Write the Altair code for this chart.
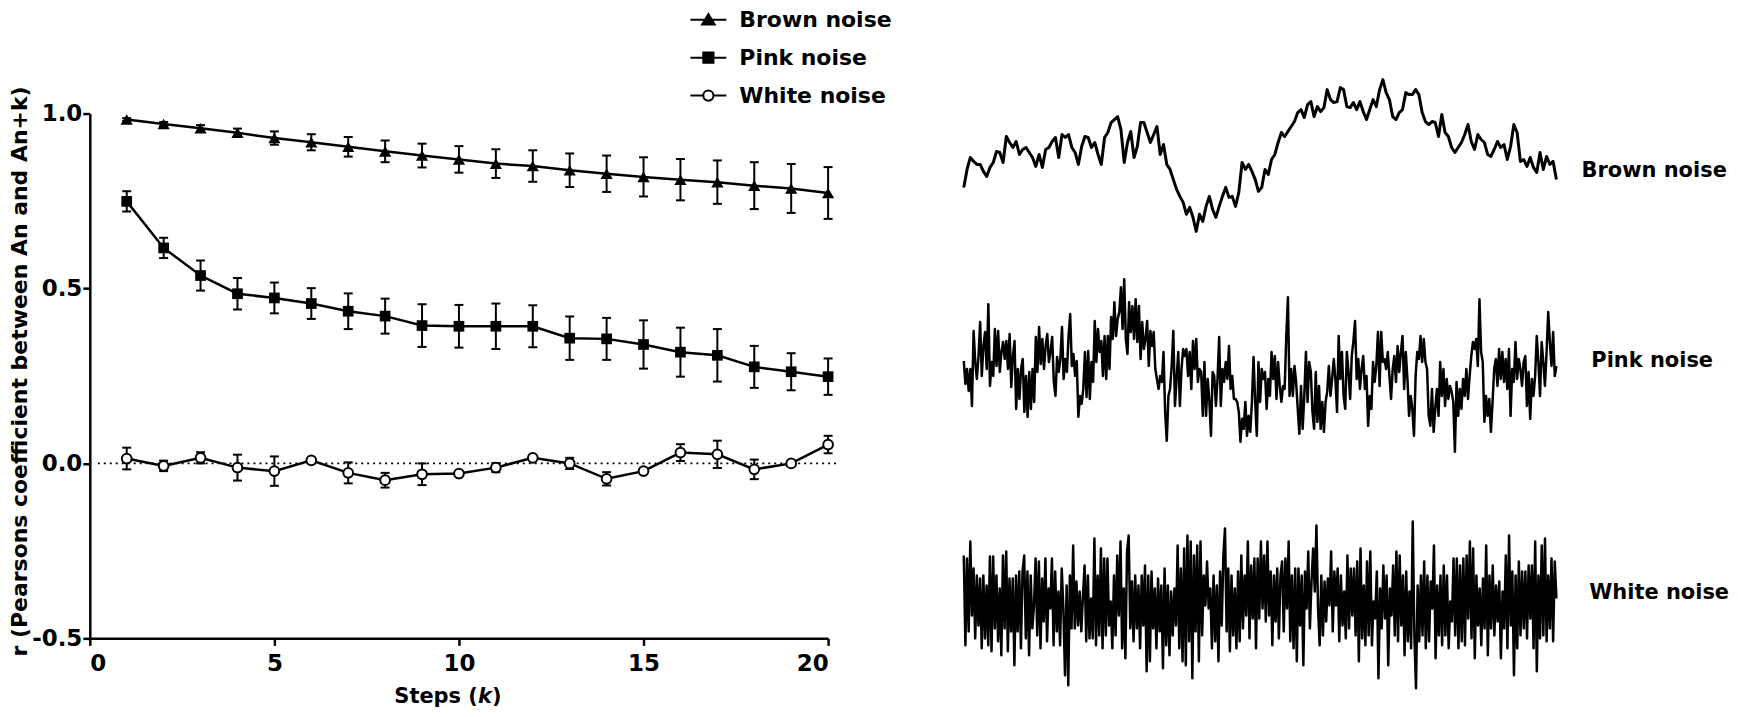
import altair as alt
import pandas as pd

FONT = "DejaVu Sans"

# ---------------- data ----------------
k_steps = list(range(1, 21))
series_names = ["Brown noise", "Pink noise", "White noise"]

brown_r = [0.983, 0.970, 0.958, 0.945, 0.930, 0.918, 0.905, 0.892, 0.880, 0.869,
           0.857, 0.850, 0.838, 0.828, 0.819, 0.811, 0.804, 0.794, 0.786, 0.773]
brown_err = [0.004, 0.006, 0.009, 0.012, 0.019, 0.023, 0.028, 0.031, 0.034, 0.038,
             0.041, 0.045, 0.048, 0.052, 0.056, 0.059, 0.062, 0.067, 0.070, 0.074]
pink_r = [0.749, 0.616, 0.537, 0.485, 0.473, 0.457, 0.435, 0.421, 0.394, 0.392,
          0.392, 0.392, 0.358, 0.356, 0.340, 0.318, 0.309, 0.276, 0.262, 0.248]
pink_err = [0.029, 0.029, 0.043, 0.045, 0.044, 0.044, 0.051, 0.050, 0.061, 0.061,
            0.065, 0.060, 0.062, 0.060, 0.069, 0.070, 0.075, 0.060, 0.053, 0.052]
white_r = [0.014, -0.007, 0.016, -0.012, -0.022, 0.009, -0.027, -0.048, -0.031, -0.029,
           -0.012, 0.016, 0.000, -0.044, -0.022, 0.031, 0.026, -0.017, 0.000, 0.054]
white_err = [0.031, 0.015, 0.016, 0.037, 0.042, 0.005, 0.030, 0.021, 0.031, 0.005,
             0.013, 0.005, 0.016, 0.019, 0.005, 0.024, 0.039, 0.028, 0.003, 0.025]

# example traces (arbitrary amplitude units)
brown_trace = [-16, 2, 14, 10, 7, 7, 0, -5, 4, 9, 20, 19, 9, 35, 29, 24, 30, 17, 22, 24,
               19, 14, 5, 17, 4, 22, 24, 30, 34, 14, 37, 34, 37, 24, 19, 7, 25, 35, 34, 24,
               29, 17, 7, 34, 39, 49, 52, 55, 42, 9, 29, 40, 14, 25, 49, 49, 39, 29, 37, 45,
               17, 27, 7, 2, -8, -18, -25, -31, -43, -36, -46, -60, -43, -50, -35, -25, -38, -46, -35, -25,
               -16, -26, -25, -35, -21, 9, 2, 7, 0, -8, -20, -16, 2, -3, 12, 17, 29,
               39, 35, 40, 45, 50, 59, 62, 54, 67, 70, 55, 65, 60, 64, 82, 72, 69, 70, 84, 82,
               65, 64, 69, 62, 70, 60, 52, 62, 72, 65, 82, 92, 79, 72, 55, 52, 59, 62, 79, 77,
               77, 82, 77, 59, 50, 47, 50, 49, 35, 57, 39, 35, 24, 19, 24, 29, 37, 47, 30, 22,
               37, 32, 29, 17, 15, 22, 30, 24, 27, 12, 25, 47, 39, 10, 12, 5, 14, 4, -1, 19,
               2, 15, 7, 10, -8]

pink_trace = [3, -20, -5, -27, -5, -42, 33, 2, -15, 8, 42, -12, 18, 32, -5, 60, -22, 2, -12, 35,
              -2, 33, -8, 12, 22, 5, 23, -5, 30, -23, 8, 23, -45, -5, -35, -5, 5, -48, -12, -53,
              -8, -45, -5, -38, 27, -8, 37, 0, 25, -5, 18, 30, 2, 13, 27, -18, -32, 7, -8, 5,
              37, -15, 5, -8, 28, 50, -2, 10, -12, 3, -53, -32, -40, -25, 12, -33, 13, -35, 2, -18,
              43, 2, 35, 12, 23, -12, 28, -15, 28, -5, 47, 25, 62, 28, 45, 52, 77, 35, 85, 25,
              10, 62, 32, 58, 25, 65, 22, 58, 5, 42, 15, 25, 43, -2, 33, 18, 32, -5, -15, -25,
              -12, -18, 12, -48, -77, -32, -25, -2, 33, -42, -15, 12, -42, -5, 15, 8, 15, -12, 12, -25,
              23, -5, 25, -18, -5, -8, -52, 2, -52, -15, -37, -72, -8, -12, -42, -15, 27, -42, -5, -18,
              2, -15, 18, -25, -12, -35, -35, -38, -48, -78, -55, -65, -38, -72, -52, -68, -38, 7, -38, -72,
              2, -38, -5, -15,
              -8, -45, -15, -32, 12, -15, 8, -35, 2, -22, -38, -22, -25, 28, 67, -32, -5, -32, -2, -18,
              -45, -70, -22, -65, -32, 12, -38, 2, -8, -48, -65, -8, -58, -22, -65, -38, -68, -38, -28, -2,
              -32, -15, 5, -15, -48, 28, -15, 12, -32, -45, 12, -8, -35, 8, 23, 43, -15, 5, -25, -5,
              8, -25, -12, -62, -32, -45, 2, -18, -2, 32, -22, 32, 2, 5, -5, 12, -12, -35, -5, 8,
              -18, 18, -8, 12, 28, -25, 12, -15, -52, -32, -45, -72, -12, 12, 5, 28, 2, 25, 2, -5,
              -52, -62, -25, -68, -45, -25, -52, 2, -32, -5, -42, -15, -35, -22, -28, -38, -88, -18, -52, -25,
              -45, -15, -32, -5, -35, -12, 8, 22, 15, 25, -2, 65, 12, 2, -58, -32, -52, -35, -68, -38,
              -5, 5, -22, 15, -15, 12, -18, 5, -25, 15, -52, -5, -18, 22, -15, 5, -5, -22, 2, 8,
              -42, -8, -55, -15, -32, -12, 28, 2, -32, 22, 2, -22, 12, 52, 22, -2, 32, -12, -2]

white_trace = [48, -42, 45, -28, 62, -12, 35, -35, 28, -22, 25, -45, 28, -35, 18, -42, 47, -48, 47, -25,
               28, -38, 15, -52, 48, -25, 52, -48, 25, -28, 25, -62, 28, -28, 32, -45, 32, 48, -35, 32,
               -52, 28, -25, -2, 45, -32, 42, -45, 25, -18, 45, -38, 15, -5, 45, -42, 32, -28, 12, -42,
               35, -5, -72, 18, -82, 28, -25, 58, -25, 22, -22, 12, -28, 8, 38, -38, 28, -35, 5, -35,
               65, -42, 28, -32, 55, -45, 45, -32, 45, -22, 2, -45, 28, -32, 48, -12, 62, -45, 15, -55,
               52, 68, -25, 22, -38, 28, -25, 18, -45, 28, -22, 38, -68, 28, -58, 32, -25, 15, -45, 25,
               -28, 18, -65, 35, -42, 18, -52, 12, -32, 15, -22, 58, -45, 35, -58, 55, -62, 68, -38, 62,
               -75, 48, -28, 58, -58, 62, -32, 28, -2, 42, -5, 15, -45, 28, -38, 18, -58, 32, -22, 48,
               75, -28, 35, -48, 28, -32, 15, -45, 32, -38, 48, -25, 28, -12, 62, -35, 38, -15, 45, -45,
               45, -15, 62, -5,
               48, -18, 62, -12, 32, -42, 28, -18, 35, -35, 28, 42, -28, 45, -5, 62, -38, 28, -45, 35,
               -58, 35, -22, 28, -62, 32, -5, 52, -25, 22, 55, 12, 78, -5, -42, 28, -32, 22, -18, 25,
               -2, 52, -28, 32, -2, 35, -38, 28, -22, 12, -35, 48, -25, 35, -12, 35, -32, 42, -58, 55,
               -35, 18, -42, 42, -32, 52, -42, 2, -15, 32, -75, 15, -25, 38, -15, 28, -62, 15, -12, 38,
               -32, 52, -38, 48, -22, 28, -52, 32, -38, 12, -45, 82, -32, -85, 18, -38, 28, -32, 42, -45,
               28, -38, 22, -5, 58, -55, 18, -32, 28, -42, 38, -32, 28, -45, 2, -18, 45, -32, 45, -45,
               38, -38, 45, -42, 48, -15, 62, -35, 55, -55, 28, -22, 15, -42, 25, -25, 58, -52, 28, -25,
               38, -32, 18, -18, 22, -55, 12, -25, 48, -45, 68, -22, 32, -72, 28, -45, 42, -32, 32, -25,
               32, -35, 38, -15, 38, -45, 62, -68, 28, -35, 58, -32, 65, -38, 28, -25, 45, -38, 42, 5]

# ---------------- tables ----------------
rows = []
for name, rs, es in zip(series_names, [brown_r, pink_r, white_r], [brown_err, pink_err, white_err]):
    for k, r, e in zip(k_steps, rs, es):
        rows.append({"k": k, "r": r, "lo": r - e, "hi": r + e, "series": name})
df = pd.DataFrame(rows)

xscale = alt.Scale(domain=[0, 20], nice=False, zero=False)
yscale = alt.Scale(domain=[-0.5, 1.0], nice=False, zero=False)
x_axis = alt.Axis(values=[0, 5, 10, 15, 20], format="d", title=None,
                  labelPadding=7, labelAngle=0)
y_axis = alt.Axis(values=[-0.5, 0, 0.5, 1.0],
                  labelExpr="replace(format(datum.value, '.1f'), '\u2212', '-')",
                  title="r (Pearsons coefficient between An and An+k)",
                  titlePadding=0, labelPadding=1, titleY=258)


def X(field="k"):
    return alt.X(f"{field}:Q", scale=xscale, axis=x_axis)


def Y(field="r"):
    return alt.Y(f"{field}:Q", scale=yscale, axis=y_axis)


base = alt.Chart(df)

zero_line = alt.Chart(pd.DataFrame({"k": [0.0], "r": [0.0]})).mark_rule(
    color="black", strokeDash=[2, 4], strokeWidth=1.6
).encode(y=Y("r"), x=alt.value(8), x2=alt.value(748))

lines = base.mark_line(color="black", strokeWidth=2.5).encode(
    x=X(), y=Y(), detail="series:N")

err_rules = base.mark_rule(color="black", strokeWidth=2).encode(
    x=X(), y=Y("lo"), y2="hi:Q")
cap_hi = base.mark_tick(orient="horizontal", size=9, thickness=2, color="black", opacity=1).encode(
    x=X(), y=Y("hi"))
cap_lo = base.mark_tick(orient="horizontal", size=9, thickness=2, color="black", opacity=1).encode(
    x=X(), y=Y("lo"))

pts_brown = base.transform_filter(alt.datum.series == "Brown noise").mark_point(
    shape="triangle-up", filled=True, size=150, color="black", opacity=1
).encode(x=X(), y=Y())
pts_pink = base.transform_filter(alt.datum.series == "Pink noise").mark_point(
    shape="square", filled=True, size=115, color="black", opacity=1
).encode(x=X(), y=Y())
pts_white = base.transform_filter(alt.datum.series == "White noise").mark_point(
    shape="circle", fill="white", stroke="black", strokeWidth=2, size=95, opacity=1
).encode(x=X(), y=Y())

# legend (symbols "-marker-" drawn as custom paths)
tri_path = "M-3,0H3M0,-0.95L1.05,0.8L-1.05,0.8Z"
sq_path = "M-3,0H3M-0.85,-0.85H0.85V0.85H-0.85Z"
circ_path = ("M-3,0H-0.85M0.85,0H3M-0.85,0A0.85,0.85,0,1,0,0.85,0"
             "A0.85,0.85,0,1,0,-0.85,0Z")
legend_props = dict(title=None, orient="none", legendX=609, legendY=-105,
                    symbolSize=144, symbolStrokeWidth=2, symbolStrokeColor="black",
                    labelFont=FONT, labelFontWeight="bold", labelFontSize=22,
                    labelColor="black", labelOffset=20, rowPadding=16, padding=0,
                    symbolOpacity=1, labelLimit=300)
legend_layer = alt.Chart(pd.DataFrame({"series": series_names})).transform_filter(
    "false").mark_point(strokeWidth=2, opacity=1).encode(
    shape=alt.Shape("series:N", scale=alt.Scale(domain=series_names,
                                                range=[tri_path, sq_path, circ_path]),
                    legend=alt.Legend(**legend_props)),
    fill=alt.Fill("series:N", scale=alt.Scale(domain=series_names,
                                              range=["black", "black", "white"]),
                  legend=alt.Legend(**legend_props)),
    stroke=alt.Stroke("series:N", scale=alt.Scale(domain=series_names,
                                                  range=["black", "black", "black"]),
                      legend=alt.Legend(**legend_props)),
)

# x-axis title with italic k
ttl = alt.Chart(pd.DataFrame({"a": ["Steps ("], "b": ["k"], "c": [")"]}))
t1 = ttl.mark_text(font=FONT, fontWeight="bold", fontSize=21, color="black",
                   align="right", baseline="alphabetic").encode(
    text="a:N", x=alt.value(389), y=alt.value(591))
t2 = ttl.mark_text(font=FONT, fontWeight="bold", fontStyle="italic", fontSize=21,
                   color="black", align="left", baseline="alphabetic").encode(
    text="b:N", x=alt.value(389), y=alt.value(591))
t3 = ttl.mark_text(font=FONT, fontWeight="bold", fontSize=21, color="black",
                   align="left", baseline="alphabetic").encode(
    text="c:N", x=alt.value(403), y=alt.value(591))

left = alt.layer(zero_line, lines, err_rules, cap_hi, cap_lo, pts_brown, pts_pink,
                 pts_white, legend_layer, t1, t2, t3).properties(width=740, height=526)


def trace_chart(vals, height, lo, hi, label, lx, ly, sw):
    d = pd.DataFrame({"i": list(range(len(vals))), "v": vals})
    line = alt.Chart(d).mark_line(color="black", strokeWidth=sw, strokeJoin="round").encode(
        x=alt.X("i:Q", axis=None,
                scale=alt.Scale(domain=[0, len(vals) - 1], nice=False, zero=False)),
        y=alt.Y("v:Q", axis=None, scale=alt.Scale(domain=[lo, hi], nice=False, zero=False)))
    txt = alt.Chart(pd.DataFrame({"t": [label]})).mark_text(
        font=FONT, fontWeight="bold", fontSize=21, color="black",
        align="center", baseline="middle").encode(
        text="t:N", x=alt.value(lx), y=alt.value(ly))
    return alt.layer(line, txt).properties(width=594, height=height)


brown_c = trace_chart(brown_trace, 150, -92, 58, "Brown noise", 692, 58, 3)
pink_c = trace_chart(pink_trace, 190, -109, 81, "Pink noise", 690, 78, 2.5)
white_c = trace_chart(white_trace, 200, -89, 111, "White noise", 697, 101, 2.5)

right = alt.vconcat(brown_c, pink_c, white_c, spacing=20, bounds="flush")

chart = alt.hconcat(left, right, spacing=136, bounds="flush").properties(
    padding=0
).configure_view(stroke=None).configure_axis(
    domainColor="black", domainWidth=2.5, tickColor="black", tickWidth=2.5, tickSize=7,
    labelFont=FONT, labelFontWeight="bold", labelFontSize=23, labelColor="black",
    titleFont=FONT, titleFontWeight="bold", titleFontSize=22, titleColor="black",
    grid=False
)

chart.save("out.html", embed_options={"renderer": "svg", "actions": False})
